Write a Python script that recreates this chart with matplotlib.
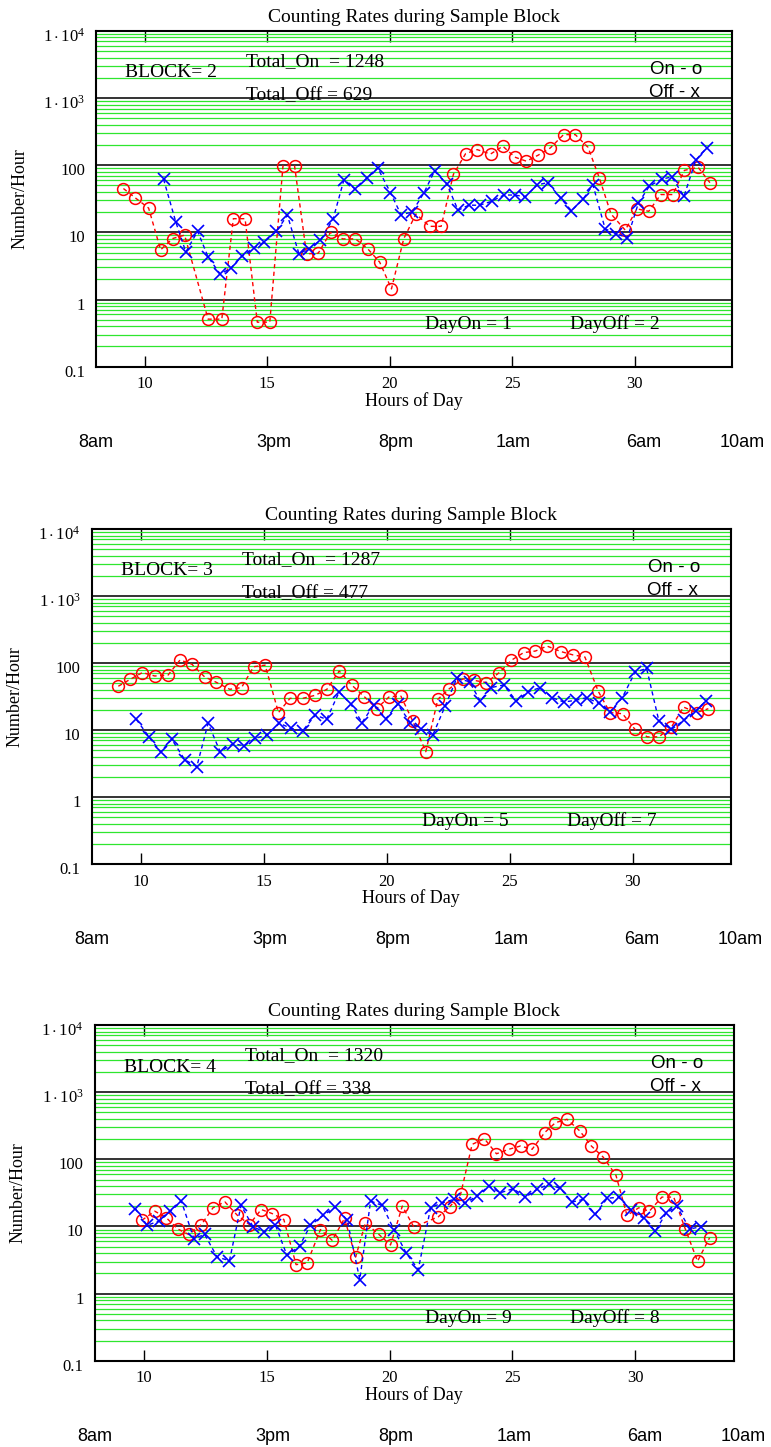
# Counting rates during sample blocks (three panels, log scale)

import numpy as np
import matplotlib
matplotlib.use('Agg')
import matplotlib.pyplot as plt
import matplotlib.transforms as mtransforms
from matplotlib.ticker import FixedLocator, LogLocator, NullFormatter

plt.rcParams['font.family'] = 'Liberation Serif'
plt.rcParams['mathtext.fontset'] = 'custom'
plt.rcParams['mathtext.rm'] = 'Liberation Serif'
plt.rcParams['mathtext.it'] = 'Liberation Serif:italic'

# ---- data ----
blocks = [2, 3, 4]
total_on = [1248, 1287, 1320]
total_off = [629, 477, 338]
day_on = [1, 5, 9]
day_off = [2, 7, 8]

# Block 2
on_h_2 = [9.12, 9.59, 10.15, 10.64, 11.13, 11.62, 12.58, 13.14, 13.61, 14.09, 14.59, 15.1,
          15.64, 16.11, 16.6, 17.08, 17.58, 18.08, 18.6, 19.1, 19.59, 20.07, 20.57, 21.07,
          21.63, 22.1, 22.6, 23.1, 23.57, 24.12, 24.62, 25.11, 25.58, 26.06, 26.56, 27.1,
          27.58, 28.1, 28.56, 29.04, 29.62, 30.1, 30.58, 31.07, 31.56, 32.04, 32.6, 33.08]
on_v_2 = [45, 33, 23, 5.5, 8.1, 9.1, 0.51, 0.51, 16, 16, 0.46, 0.46,
          99, 99, 4.8, 4.9, 10, 8, 8, 5.7, 3.6, 1.44, 8, 18.8,
          12.3, 12.3, 73, 149, 171, 147, 192, 132, 115, 141, 181, 286,
          286, 185, 65, 18.8, 10.8, 22.4, 20.6, 36.6, 36.6, 84, 93, 55]
off_h_2 = [10.76, 11.26, 11.67, 12.15, 12.58, 13.07, 13.5, 13.98, 14.46, 14.86,
           15.37, 15.82, 16.29, 16.7, 17.17, 17.69, 18.13, 18.6, 19.08, 19.51,
           20.03, 20.46, 20.91, 21.4, 21.83, 22.33, 22.79, 23.23, 23.67, 24.16,
           24.66, 25.1, 25.54, 26.02, 26.45, 27.0, 27.42, 27.89, 28.3, 28.8,
           29.24, 29.71, 30.16, 30.61, 31.11, 31.52, 32.02, 32.5, 32.95]
off_v_2 = [62, 14.3, 5.1, 10.4, 4.3, 2.4, 2.9, 4.5, 5.9, 7.1,
           10.4, 18, 4.8, 5.7, 7.6, 16, 61, 44, 65, 91,
           39, 18.4, 20, 39, 82, 53, 21.4, 25.4, 25.4, 29,
           36, 36, 34, 51, 55, 32, 21, 31, 51, 11.3,
           9.6, 8.3, 27.5, 49, 62, 67, 34.5, 119, 181]

# Block 3
on_h_3 = [9.09, 9.57, 10.07, 10.57, 11.11, 11.6, 12.08, 12.6, 13.05, 13.62, 14.1, 14.59,
          15.06, 15.6, 16.07, 16.59, 17.1, 17.57, 18.07, 18.59, 19.09, 19.59, 20.11, 20.58,
          21.06, 21.59, 22.08, 22.55, 23.1, 23.57, 24.05, 24.58, 25.07, 25.57, 26.05, 26.52,
          27.09, 27.58, 28.06, 28.6, 29.08, 29.59, 30.1, 30.6, 31.07, 31.58, 32.07, 32.6, 33.08]
on_v_3 = [45, 57, 72, 64, 66, 111, 96, 62, 52, 40.5, 43, 88,
          93, 18.2, 29.7, 29.7, 33, 40.5, 76, 46.5, 31.5, 20.8, 31.5, 32,
          13.6, 4.75, 28.7, 41.4, 58, 55, 51, 72, 110, 143, 151, 179,
          148, 132, 123, 38, 18.2, 17.5, 10.2, 7.9, 7.9, 11.1, 22, 18.2, 20.8]
off_h_3 = [9.82, 10.34, 10.81, 11.26, 11.79, 12.28, 12.74, 13.23, 13.76, 14.21, 14.64, 15.13,
           15.64, 16.11, 16.58, 17.1, 17.56, 18.07, 18.55, 19.0, 19.47, 19.97, 20.45, 20.96,
           21.39, 21.87, 22.38, 22.85, 23.37, 23.8, 24.25, 24.76, 25.27, 25.75, 26.25, 26.73,
           27.2, 27.68, 28.13, 28.63, 29.08, 29.58, 30.1, 30.57, 31.07, 31.58, 32.07, 32.57, 32.98]
off_v_3 = [14.4, 7.9, 4.7, 7.3, 3.6, 2.84, 12.6, 4.75, 6.25, 5.8, 7.5, 8.4,
           12.6, 10.6, 9.7, 16.7, 14.4, 37, 24.2, 12.9, 23.6, 14.8, 24.2, 12.9,
           10.5, 8.3, 22.8, 59, 52.6, 27.1, 43, 47, 27.1, 37.3, 43, 30.4,
           26.2, 27.7, 30.4, 25, 18.6, 30.4, 73, 83, 13.6, 10.2, 13.9, 19.2, 27.1]

# Block 4
on_h_4 = [9.93, 10.45, 10.92, 11.38, 11.83, 12.35, 12.82, 13.3, 13.8, 14.3, 14.78, 15.22,
          15.7, 16.2, 16.65, 17.19, 17.67, 18.17, 18.62, 19.02, 19.57, 20.04, 20.52, 20.99,
          21.98, 22.45, 22.89, 23.36, 23.86, 24.35, 24.85, 25.33, 25.8, 26.31, 26.75, 27.22,
          27.74, 28.21, 28.69, 29.21, 29.66, 30.14, 30.57, 31.08, 31.56, 32.03, 32.53, 33.02]
on_v_4 = [12.4, 16.9, 13.5, 9.2, 7.6, 10.7, 19, 23.3, 14.8, 10.7, 17.9, 15.6,
          12.7, 2.7, 2.87, 9, 6.2, 13.2, 3.5, 11.3, 7.6, 5.3, 20.1, 9.8,
          13.9, 19.7, 30, 167, 203, 121, 141, 158, 141, 250, 352, 395,
          265, 158, 108, 58, 14.6, 19, 16.9, 27.4, 27.4, 9.2, 3.04, 6.8]
off_h_4 = [9.66, 10.14, 10.61, 11.09, 11.53, 12.04, 12.48, 12.99, 13.49, 13.96, 14.45, 14.91,
           15.36, 15.83, 16.34, 16.78, 17.3, 17.8, 18.28, 18.79, 19.23, 19.7, 20.18, 20.68,
           21.17, 21.67, 22.14, 22.62, 23.09, 23.56, 24.04, 24.51, 25.03, 25.53, 26.0, 26.48,
           26.95, 27.43, 27.87, 28.37, 28.85, 29.32, 29.84, 30.34, 30.81, 31.26, 31.69, 32.21, 32.68]
off_v_4 = [18.4, 10.4, 12, 16.9, 23.9, 6.6, 7.6, 3.5, 3.1, 20.6, 9.9, 8.3,
           10.5, 3.7, 5.1, 10.4, 14.6, 19.5, 12.4, 1.62, 23.9, 20.6, 9, 4,
           2.28, 19, 22.5, 25.3, 22.5, 28.4, 40, 31.8, 36.5, 27.4, 35.6, 42.4,
           36.9, 23.1, 25.3, 15.1, 26.2, 27.4, 17.3, 13.2, 8.5, 16, 20.1, 9.2, 9.9]

x_ticks = [10, 15, 20, 25, 30]
y_ticks = [0.1, 1, 10, 100, 1000, 10000]
y_tick_labels = ['0.1', '1', '10', '100', r'$1\cdot10^{3}$', r'$1\cdot10^{4}$']
clock_labels = ['8am', '3pm', '8pm', '1am', '6am', '10am']
clock_hours = [8.0, 15.26, 20.24, 25.05, 30.36, 34.38]

series = [(on_h_2, on_v_2, off_h_2, off_v_2),
          (on_h_3, on_v_3, off_h_3, off_v_3),
          (on_h_4, on_v_4, off_h_4, off_v_4)]

# axes rectangles in figure fraction (left, bottom, width, height)
rects = [(0.1245, 0.7466, 0.8255, 0.2320),
         (0.1187, 0.4029, 0.8294, 0.2315),
         (0.1226, 0.0596, 0.8290, 0.2320)]

fig = plt.figure(figsize=(7.71, 14.47), dpi=100)
dash = (0, (3, 2.5))

for i in range(3):
    ax = fig.add_axes(rects[i])
    on_h, on_v, off_h, off_v = series[i]

    ax.set_yscale('log')
    ax.set_xlim(8, 34)
    ax.set_ylim(0.1, 1e4)
    ax.set_axisbelow(True)

    ax.yaxis.set_major_locator(FixedLocator(y_ticks))
    ax.set_yticklabels(y_tick_labels)
    ax.yaxis.set_minor_locator(LogLocator(base=10, subs=np.arange(2, 10), numticks=20))
    ax.yaxis.set_minor_formatter(NullFormatter())
    ax.grid(which='minor', axis='y', color='#2ee62e', lw=0.9)
    ax.grid(which='major', axis='y', color='#333333', lw=1.4)
    ax.tick_params(axis='y', which='both', length=0, labelsize=12, pad=8)

    ax.set_xticks(x_ticks)
    ax.tick_params(axis='x', direction='in', length=8, width=1, top=True,
                   labelsize=12, pad=7)
    for sp in ax.spines.values():
        sp.set_linewidth(1.5)

    # shift y labels a little below their grid line
    offset = mtransforms.ScaledTranslation(0, -4 / 100, fig.dpi_scale_trans)
    for lab in ax.get_yticklabels():
        lab.set_transform(lab.get_transform() + offset)

    ax.plot(on_h, on_v, color='red', ls=dash, lw=1.0, marker='o', mfc='none',
            ms=8.5, mew=1.1)
    ax.plot(off_h, off_v, color='blue', ls=dash, lw=1.0, marker='x', ms=9, mew=1.2)

    ax.set_title('Counting Rates during Sample Block', fontsize=14, pad=6.5)
    ax.text(-0.1195, 0.5, 'Number/Hour', rotation=90, transform=ax.transAxes,
            ha='center', va='center', fontsize=13)
    ax.text(0.5, -0.102, 'Hours of Day', transform=ax.transAxes,
            ha='center', va='center', fontsize=13)

    ax.text(0.046, 0.875, 'BLOCK= %d' % blocks[i], transform=ax.transAxes,
            va='center', fontsize=14)
    ax.text(0.236, 0.91, 'Total_On  = %d' % total_on[i], transform=ax.transAxes,
            va='center', fontsize=14)
    ax.text(0.236, 0.807, 'Total_Off = %d' % total_off[i], transform=ax.transAxes,
            va='center', fontsize=14)
    ax.text(0.871, 0.884, 'On - o', transform=ax.transAxes, va='center',
            fontsize=13.5, family='Liberation Sans')
    ax.text(0.869, 0.816, 'Off - x', transform=ax.transAxes, va='center',
            fontsize=13.5, family='Liberation Sans')
    ax.text(0.517, 0.127, 'DayOn = %d' % day_on[i], transform=ax.transAxes,
            va='center', fontsize=14)
    ax.text(0.744, 0.127, 'DayOff = %d' % day_off[i], transform=ax.transAxes,
            va='center', fontsize=14)

    trans = mtransforms.blended_transform_factory(ax.transData, ax.transAxes)
    for lab, hr in zip(clock_labels, clock_hours):
        ax.text(hr, -0.226, lab, transform=trans, ha='center', va='center',
                fontsize=13, family='Liberation Sans', clip_on=False)

fig.savefig('out.png', dpi=100)
